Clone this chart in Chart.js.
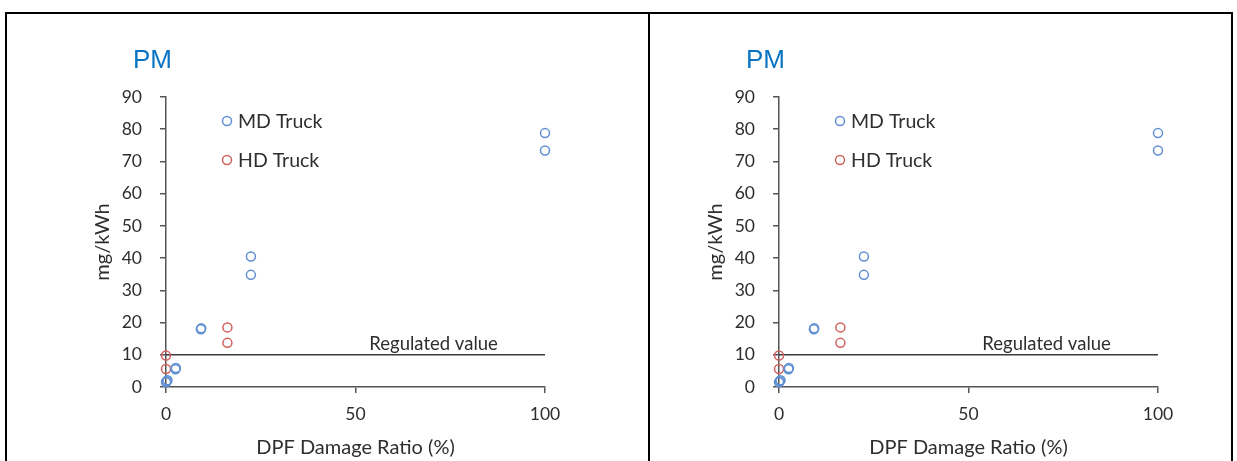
<!DOCTYPE html>
<html>
<head>
<meta charset="utf-8">
<script src="https://cdn.jsdelivr.net/npm/chart.js@4.4.1/dist/chart.umd.min.js"></script>
<style>
  html, body { margin: 0; padding: 0; background: #fff; width: 1237px; height: 461px; overflow: hidden; }
  .line { position: absolute; background: #000; }
  .wrap { position: absolute; top: 14px; width: 560px; height: 447px; }
</style>
</head>
<body>
<div class="line" style="left:5px; top:12px; width:1228px; height:2px;"></div>
<div class="line" style="left:5px; top:12px; width:2px; height:449px;"></div>
<div class="line" style="left:648px; top:12px; width:2px; height:449px;"></div>
<div class="line" style="left:1231px; top:12px; width:2px; height:449px;"></div>
<div class="wrap" style="left:46px;"><canvas id="c1" width="560" height="447"></canvas></div>
<div class="wrap" style="left:659px;"><canvas id="c2" width="560" height="447"></canvas></div>
<script>
// ---- data ----
const chartTitle = 'PM';
const xAxisTitle = 'DPF Damage Ratio (%)';
const yAxisTitle = 'mg/kWh';
const seriesNames = ['MD Truck', 'HD Truck'];
const mdX = [0, 0.4, 0.2, 2.5, 2.6, 9.2, 9.3, 22.4, 22.4, 100, 100];
const mdY = [1.5, 2.1, 1.8, 5.5, 5.9, 17.9, 18.2, 40.5, 34.8, 78.8, 73.4];
const hdX = [0, 0, 16.2, 16.2];
const hdY = [9.8, 5.6, 18.5, 13.7];
const regulatedLabel = 'Regulated value';
const regulatedValue = 10;
const regulatedX = [0, 100];
const regulatedLabelX = 70.6;
const xTicks = [0, 50, 100];
const yTicks = [0, 10, 20, 30, 40, 50, 60, 70, 80, 90];

const BLUE = '#5f8fd2';
const RED = '#d0615f';
const AXIS = '#555555';
const TEXT = '#2e2e2e';
const FONT = 'Lato, "Open Sans", sans-serif';

function pts(xs, ys) { return xs.map((x, i) => ({ x: x, y: ys[i] })); }

const decorPlugin = {
  id: 'decor',
  afterDatasetsDraw(chart) {
    const { ctx, chartArea, scales } = chart;
    ctx.save();
    // title
    ctx.fillStyle = '#0a74c4';
    ctx.font = '26px "Liberation Sans", Arial, sans-serif';
    ctx.textAlign = 'left';
    ctx.textBaseline = 'middle';
    ctx.fillText(chartTitle, chartArea.left - 33, chartArea.top - 36);
    // regulated value label
    ctx.fillStyle = TEXT;
    ctx.font = '18.5px ' + FONT;
    ctx.textAlign = 'center';
    ctx.textBaseline = 'bottom';
    ctx.fillText(regulatedLabel, scales.x.getPixelForValue(regulatedLabelX), scales.y.getPixelForValue(regulatedValue) - 1);
    // legend
    const items = [{ label: chart.data.datasets[0].label, color: BLUE }, { label: chart.data.datasets[1].label, color: RED }];
    items.forEach((it, i) => {
      const mx = chartArea.left + 61;
      const my = chartArea.top + 24 + i * 39;
      ctx.beginPath();
      ctx.arc(mx, my, 4.5, 0, Math.PI * 2);
      ctx.strokeStyle = it.color;
      ctx.lineWidth = 1.5;
      ctx.stroke();
      ctx.fillStyle = TEXT;
      ctx.font = '19.5px ' + FONT;
      ctx.textAlign = 'left';
      ctx.textBaseline = 'middle';
      ctx.fillText(it.label, mx + 11, my + 1);
    });
    ctx.restore();
  }
};

function makeChart(id) {
  return new Chart(document.getElementById(id), {
    type: 'scatter',
    data: {
      datasets: [
        { label: seriesNames[0], data: pts(mdX, mdY), borderColor: BLUE, backgroundColor: 'rgba(0,0,0,0)', pointRadius: 4.5, pointBorderWidth: 1.5, pointHoverRadius: 4.5, clip: false },
        { label: seriesNames[1], data: pts(hdX, hdY), borderColor: RED, backgroundColor: 'rgba(0,0,0,0)', pointRadius: 4.5, pointBorderWidth: 1.5, pointHoverRadius: 4.5, clip: false },
        { type: 'line', label: regulatedLabel, data: pts(regulatedX, regulatedX.map(() => regulatedValue)), borderColor: '#3a3a3a', borderWidth: 1.5, pointRadius: 0, fill: false, order: 5, clip: false }
      ]
    },
    options: {
      responsive: false,
      animation: false,
      events: [],
      layout: { padding: { left: 0, top: 83, right: 61, bottom: 0 } },
      plugins: { legend: { display: false }, tooltip: { enabled: false }, title: { display: false } },
      scales: {
        x: {
          type: 'linear', min: 0, max: 100,
          afterBuildTicks(scale) { scale.ticks = xTicks.map(v => ({ value: v })); },
          afterFit(scale) { scale.height = 74; },
          grid: { display: true, drawOnChartArea: false, drawTicks: true, tickLength: 6, color: AXIS, lineWidth: 1.5 },
          border: { display: true, color: AXIS, width: 1.5 },
          ticks: { color: TEXT, font: { family: FONT, size: 17.5 }, padding: 11, maxRotation: 0 },
          title: { display: true, text: xAxisTitle, color: TEXT, font: { family: FONT, size: 20 }, padding: { top: 0, bottom: 1 } }
        },
        y: {
          type: 'linear', min: 0, max: 90,
          afterBuildTicks(scale) { scale.ticks = yTicks.map(v => ({ value: v })); },
          afterFit(scale) { scale.width = 120; },
          grid: { display: true, drawOnChartArea: false, drawTicks: true, tickLength: 6, color: AXIS, lineWidth: 1.5 },
          border: { display: true, color: AXIS, width: 1.5 },
          ticks: { color: TEXT, font: { family: FONT, size: 17.5 }, padding: 18 },
          title: { display: true, text: yAxisTitle, color: TEXT, font: { family: FONT, size: 20 }, padding: { top: 45, bottom: 0 } }
        }
      }
    },
    plugins: [decorPlugin]
  });
}
makeChart('c1');
makeChart('c2');
</script>
</body>
</html>
